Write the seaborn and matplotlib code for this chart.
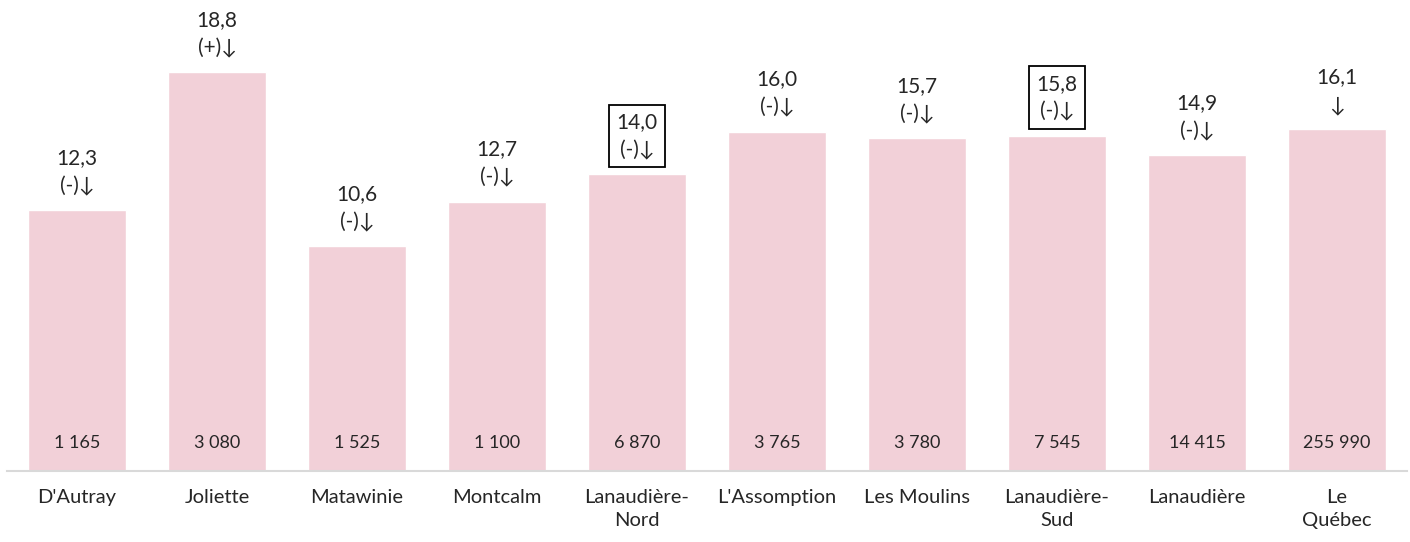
import matplotlib
matplotlib.use("Agg")
import matplotlib.pyplot as plt
import seaborn as sns
import pandas as pd

# chart data
regions = ["D'Autray", "Joliette", "Matawinie", "Montcalm", "Lanaudière-\nNord",
           "L'Assomption", "Les Moulins", "Lanaudière-\nSud", "Lanaudière", "Le\nQuébec"]
rates = [12.3, 18.8, 10.6, 12.7, 14.0, 16.0, 15.7, 15.8, 14.9, 16.1]
signs = ["(-)↓", "(+)↓", "(-)↓", "(-)↓", "(-)↓", "(-)↓", "(-)↓", "(-)↓", "(-)↓", "↓"]
counts = ["1 165", "3 080", "1 525", "1 100", "6 870", "3 765", "3 780", "7 545", "14 415", "255 990"]
boxed = ["Lanaudière-\nNord", "Lanaudière-\nSud"]

sns.set_style("white")
plt.rcParams['font.family'] = ['Lato', 'DejaVu Sans']

df = pd.DataFrame({"region": regions, "rate": rates})

fig = plt.figure(figsize=(14.1, 5.42), dpi=100)
ax = fig.add_axes([7 / 1410, 71 / 542, 1400 / 1410, 471 / 542])

sns.barplot(data=df, x="region", y="rate", color="#F2D0D8", saturation=1,
            width=0.7, ax=ax)

ax.set_xlim(-0.5, 9.5)
ax.set_ylim(0, 22.2)

for i, (r, s, c, name) in enumerate(zip(rates, signs, counts, regions)):
    label = f"{r:.1f}".replace(".", ",") + "\n" + s
    kw = {}
    if name in boxed:
        kw["bbox"] = dict(boxstyle="square,pad=0.35", fc="white", ec="black", lw=1.3)
    ax.annotate(label, xy=(i, r), xytext=(0, 10), textcoords="offset points",
                ha="center", va="bottom", fontsize=15, linespacing=1.5, **kw)
    ax.annotate(c, xy=(i, 0), xytext=(0, 20), textcoords="offset points",
                ha="center", va="center", fontsize=13)

ax.set_xlabel("")
ax.set_ylabel("")
ax.set_yticks([])
ax.tick_params(axis="x", length=0, pad=13, labelsize=14.5)
for lab in ax.get_xticklabels():
    lab.set_linespacing(1.4)
for side in ["top", "left", "right"]:
    ax.spines[side].set_visible(False)
ax.spines["bottom"].set_color("#D9D9D9")
ax.spines["bottom"].set_linewidth(1.5)

fig.savefig("out.png", dpi=100)
